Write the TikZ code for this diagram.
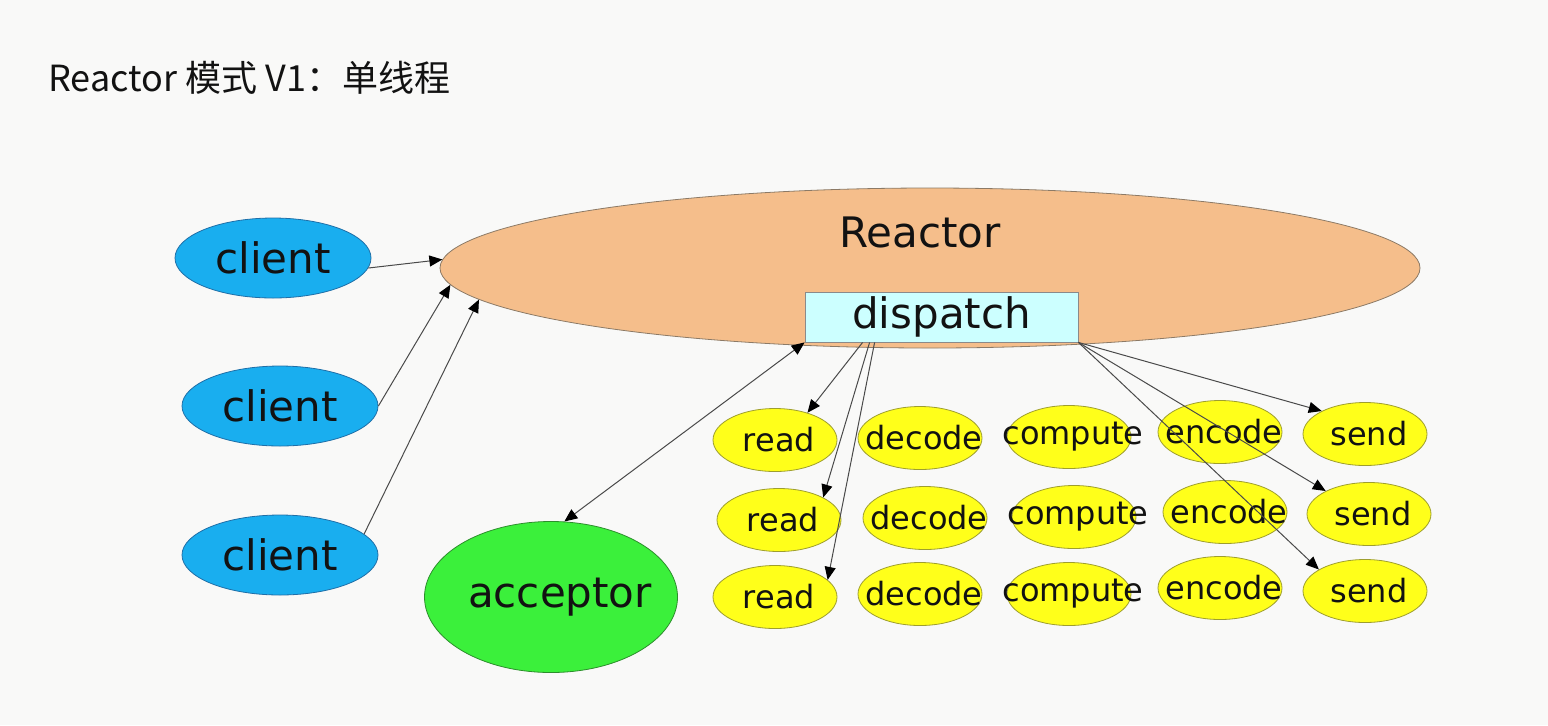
\documentclass[tikz,border=0pt]{standalone}
\usepackage{fontspec}
\setmainfont{DejaVu Sans}
\newfontfamily\cjkfont{Noto Sans CJK SC}
\usepackage{tikz}
\usetikzlibrary{shapes.geometric, arrows.meta}

\definecolor{bgwhite}{HTML}{F9F9F8}
\definecolor{ink}{HTML}{121212}
\definecolor{reactorfill}{HTML}{F5BE8B}
\definecolor{reactoredge}{HTML}{8C7A66}
\definecolor{clientfill}{HTML}{19AEEF}
\definecolor{clientedge}{HTML}{1F6FA8}
\definecolor{dispatchfill}{HTML}{CCFFFF}
\definecolor{dispatchedge}{HTML}{8A8A8A}
\definecolor{acceptorfill}{HTML}{3BF03B}
\definecolor{acceptoredge}{HTML}{2C8E2C}
\definecolor{taskfill}{HTML}{FFFF1A}
\definecolor{taskedge}{HTML}{9E9E2E}
\definecolor{linegray}{HTML}{4A4A4A}

\begin{document}
\begin{tikzpicture}[
    x=0.5pt, y=-0.5pt,
    >={Triangle[length=6.5pt, width=5.5pt, color=black]},
    bigfont/.style={font=\fontsize{21}{25}\selectfont, text=ink},
    client/.style={ellipse, draw=clientedge, fill=clientfill, minimum width=98pt, minimum height=40pt, inner sep=0pt, bigfont},
    task/.style={ellipse, draw=taskedge, fill=taskfill, minimum width=62pt, minimum height=31.5pt, inner sep=0pt,
        label={[xshift=2pt, font=\fontsize{16}{19}\selectfont, text=ink]center:#1}},
    arrow/.style={->, line width=0.5pt, draw=linegray},
    twoway/.style={<->, line width=0.5pt, draw=linegray}
]
    \path[fill=bgwhite, use as bounding box] (0,0) rectangle (1548,725);

    % Title
    \node[anchor=west, inner sep=0pt, text=ink, font=\cjkfont\fontsize{18}{22}\selectfont] (title) at (48,78) {Reactor 模式 V1：单线程};

    % Reactor
    \node[ellipse, draw=reactoredge, fill=reactorfill, minimum width=490pt, minimum height=80pt] (reactor) at (930,268) {};
    \node[bigfont] (reactorname) at (920,232) {Reactor};
    \node[rectangle, draw=dispatchedge, fill=dispatchfill, minimum width=136.5pt, minimum height=25pt, inner sep=0pt, bigfont] (dispatch) at (941.5,317) {dispatch};

    % Clients and acceptor
    \node[client] (client1) at (273,258) {client};
    \node[client] (client2) at (280,406) {client};
    \node[client] (client3) at (280,555) {client};
    \node[ellipse, draw=acceptoredge, fill=acceptorfill, minimum width=126.5pt, minimum height=75.5pt, inner sep=0pt,
        label={[xshift=4.5pt, bigfont]center:acceptor}] (acceptor) at (551,597) {};

    % Handlers
    \node[task=read] (read1) at (775,440) {};
    \node[task=decode] (decode1) at (920,438) {};
    \node[task=compute] (compute1) at (1069,437) {};
    \node[task=encode] (encode1) at (1220,432) {};
    \node[task=send] (send1) at (1365,434) {};

    \node[task=read] (read2) at (779,520) {};
    \node[task=decode] (decode2) at (925,518) {};
    \node[task=compute] (compute2) at (1074,517) {};
    \node[task=encode] (encode2) at (1225,512) {};
    \node[task=send] (send2) at (1369,514) {};

    \node[task=read] (read3) at (775,597) {};
    \node[task=decode] (decode3) at (920,594) {};
    \node[task=compute] (compute3) at (1069,594) {};
    \node[task=encode] (encode3) at (1220,588) {};
    \node[task=send] (send3) at (1365,591) {};

    % Events
    \draw[arrow] (client1.-6) -- (reactor.179.5);
    \draw[arrow] (client2.east) -- (reactor.182.3);
    \draw[arrow] (client3.14) -- (reactor.184.1);
    \draw[twoway] (acceptor.80) -- (dispatch.south west);

    \draw[arrow] ([xshift=29pt]dispatch.south west) -- (read1.40);
    \draw[arrow] ([xshift=32.5pt]dispatch.south west) -- (read2.27);
    \draw[arrow] ([xshift=35pt]dispatch.south west) -- (read3.18);
    \draw[arrow] (dispatch.south east) -- (send1.152);
    \draw[arrow] (dispatch.south east) -- (send2.152);
    \draw[arrow] (dispatch.south east) -- (send3.155);
\end{tikzpicture}
\end{document}
